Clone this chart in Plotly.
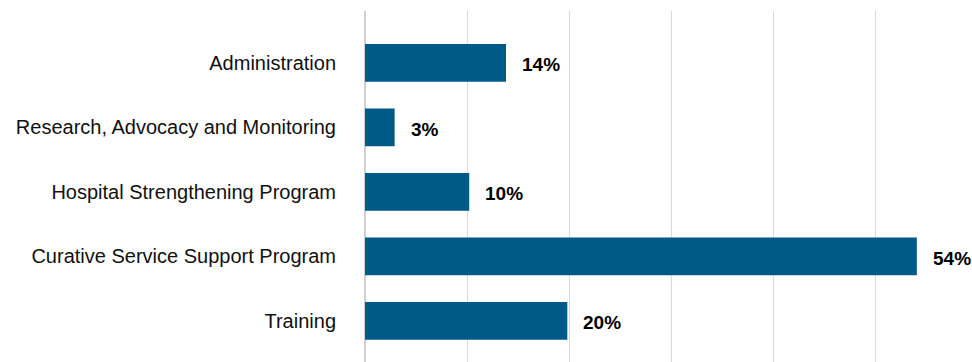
import plotly.graph_objects as go

categories = ["Administration", "Research, Advocacy and Monitoring",
              "Hospital Strengthening Program", "Curative Service Support Program",
              "Training"]
values = [13.8, 2.9, 10.2, 54.0, 19.8]
value_labels = ["14%", "3%", "10%", "54%", "20%"]

BAR = "#005a87"

fig = go.Figure(go.Bar(
    x=values, y=categories, orientation="h",
    marker=dict(color=BAR, line=dict(width=0)),
    width=0.585, hoverinfo="skip",
))

for v, c, t in zip(values, categories, value_labels):
    fig.add_annotation(x=v, y=c, text=f"<b>{t}</b>", showarrow=False,
                       xanchor="left", yanchor="middle", xshift=14, yshift=-2,
                       font=dict(family="Liberation Sans", size=19, color="#000000"))

fig.update_layout(
    width=972, height=362,
    margin=dict(l=365, r=0, t=11, b=0),
    paper_bgcolor="white", plot_bgcolor="white",
    showlegend=False,
    font=dict(family="Liberation Sans", size=20, color="#000000"),
)
fig.update_xaxes(range=[0, 59.4], dtick=10, showgrid=True, gridcolor="#d9d9d9",
                 gridwidth=1, zeroline=True, zerolinecolor="#d0d0d0", zerolinewidth=2,
                 showticklabels=False, showline=False, automargin=False, fixedrange=True)
fig.update_yaxes(categoryorder="array", categoryarray=categories,
                 range=[4.639, -0.805], showgrid=False, zeroline=False,
                 showline=False, ticks="", ticklabelstandoff=28,
                 automargin=False, fixedrange=True,
                 tickfont=dict(family="Liberation Sans", size=20, color="#111111"))

fig.write_html("out.html", config={"displayModeBar": False})
